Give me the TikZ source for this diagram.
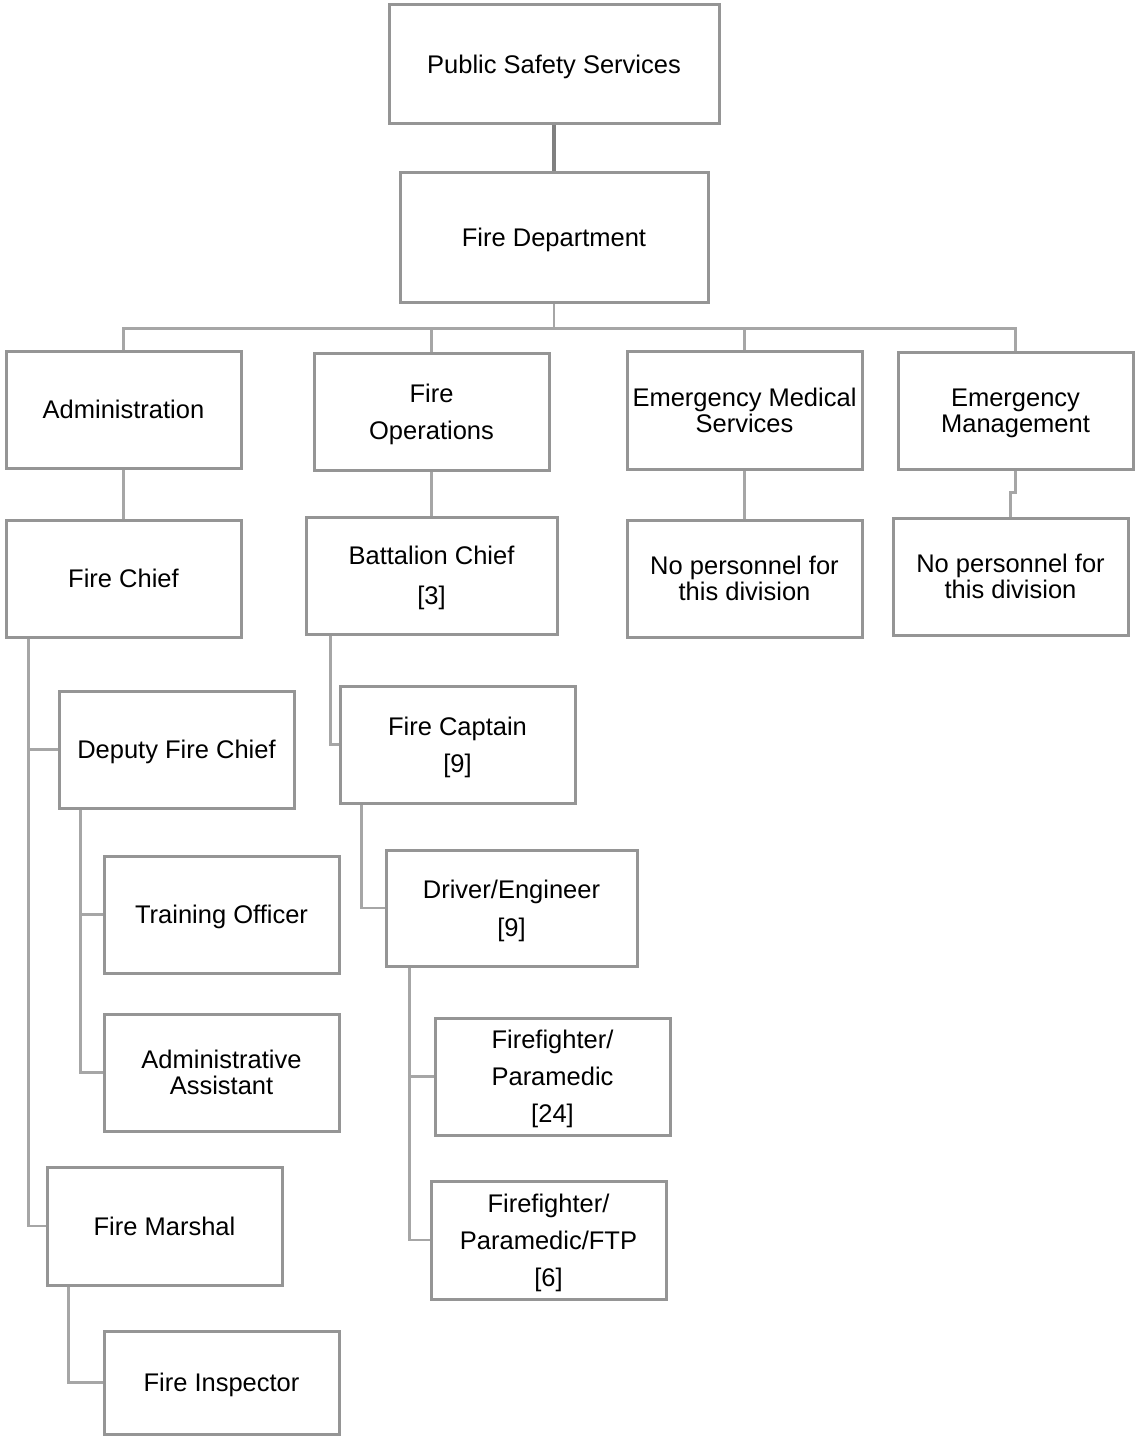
\documentclass[tikz,border=0pt]{standalone}
\usepackage{fontspec}
\setmainfont{Liberation Sans}
\definecolor{boxgray}{HTML}{959595}
\definecolor{linegray}{HTML}{A6A6A6}
\definecolor{topgray}{HTML}{808080}
\begin{document}
\begin{tikzpicture}[x=1pt,y=-1pt,
  box/.style={draw=boxgray, line width=3pt, fill=white, inner sep=0pt,
    minimum width=235pt, minimum height=117pt, align=center, text depth=0pt,
    font=\fontsize{25.5}{37}\selectfont},
  tight/.style={font=\fontsize{25.5}{26}\selectfont},
  conn/.style={draw=linegray, line width=2.2pt},
  topconn/.style={draw=topgray, line width=3.2pt}]
\useasboundingbox (0,0) rectangle (1135,1437);
% boxes
\node[box, minimum width=330pt, minimum height=118pt] (pss) at (554,64) {Public Safety Services};
\node[box, minimum width=308pt, minimum height=130pt] (fd) at (554,237) {Fire Department};
\node[box] (adm) at (123.5,409.5) {Administration};
\node[box] (fops) at (431.5,411.5) {Fire\\Operations};
\node[box, tight, minimum height=118pt] (ems) at (744.5,410) {Emergency Medical\\Services};
\node[box, tight] (em) at (1015.5,410.5) {Emergency\\Management};
\node[box] (fc) at (123.5,578.5) {Fire Chief};
\node[box, minimum width=251pt, font=\fontsize{25.5}{40}\selectfont] (bc) at (431.5,575.5) {Battalion Chief\\{}[3]};
\node[box, tight] (np1) at (744.5,578.5) {No personnel for\\this division};
\node[box, tight] (np2) at (1010.5,576.5) {No personnel for\\this division};
\node[box] (dfc) at (176.5,749.5) {Deputy Fire Chief};
\node[box] (cap) at (457.5,744.5) {Fire Captain\\{}[9]};
\node[box] (to) at (221.5,914.5) {Training Officer};
\node[box, minimum width=251pt, minimum height=116pt, font=\fontsize{25.5}{38}\selectfont] (de) at (511.5,908) {Driver/Engineer\\{}[9]};
\node[box, tight] (aa) at (221.5,1072.5) {Administrative\\Assistant};
\node[box] (ff1) at (552.5,1076.5) {Firefighter/\\Paramedic\\{}[24]};
\node[box, minimum height=118pt] (fm) at (164.5,1226) {Fire Marshal};
\node[box, minimum height=118pt] (ff2) at (548.5,1240) {Firefighter/\\Paramedic/FTP\\{}[6]};
\node[box, minimum height=103pt] (fi) at (221.5,1382.5) {Fire Inspector};
% connectors
\draw[topconn] (pss.south) -- (fd.north);
\draw[conn] (fd.south) -- ++(0,25) coordinate (bus);
\draw[conn] (adm.north) |- (bus) -| (em.north);
\draw[conn] (fops.north) -- (fops.north |- bus);
\draw[conn] (ems.north) -- (ems.north |- bus);
\draw[conn] (adm.south) -- (fc.north);
\draw[conn] (fops.south) -- (bc.north);
\draw[conn] (ems.south) -- (np1.north);
\draw[conn] (em.south) -- ++(0,22) -| (np2.north);
\coordinate (fcL) at ([xshift=24pt]fc.south west);
\draw[conn] (fcL) |- (dfc.west);
\draw[conn] (fcL) |- (fm.west);
\coordinate (dfcL) at ([xshift=23pt]dfc.south west);
\draw[conn] (dfcL) |- (to.west);
\draw[conn] (dfcL) |- (aa.west);
\coordinate (fmL) at ([xshift=23pt]fm.south west);
\draw[conn] (fmL) |- (fi.west);
\coordinate (bcL) at ([xshift=26pt]bc.south west);
\draw[conn] (bcL) |- (cap.west);
\coordinate (capL) at ([xshift=23pt]cap.south west);
\draw[conn] (capL) |- (de.west);
\coordinate (deL) at ([xshift=25pt]de.south west);
\draw[conn] (deL) |- (ff1.west);
\draw[conn] (deL) |- (ff2.west);
\end{tikzpicture}
\end{document}
